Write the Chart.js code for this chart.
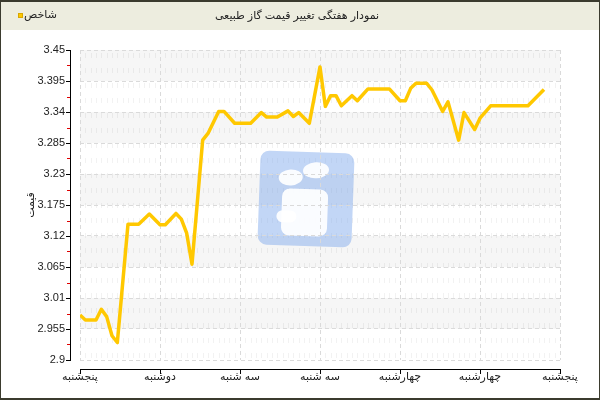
<!DOCTYPE html>
<html>
<head>
<meta charset="utf-8">
<script src="https://cdn.jsdelivr.net/npm/chart.js@4/dist/chart.umd.min.js"></script>
<style>
  html, body { margin: 0; padding: 0; background: #fff; }
  #wrap { width: 600px; height: 400px; }
</style>
</head>
<body>
<div id="wrap"><canvas id="myChart" width="600" height="400"></canvas></div>
<script>
const chartTitle = 'نمودار هفتگی تغییر قیمت گاز طبیعی';
const seriesName = 'شاخص';
const axisTitle = 'قیمت';
const dayLabels = ['پنجشنبه', 'دوشنبه', 'سه شنبه', 'سه شنبه', 'چهارشنبه', 'چهارشنبه', 'پنجشنبه'];
const yTicks = [2.9, 2.955, 3.01, 3.065, 3.12, 3.175, 3.23, 3.285, 3.34, 3.395, 3.45];
const pointIndex = [0, 1, 3, 4, 5, 6, 7, 9, 11, 13, 15, 16, 18, 19, 20, 21, 23, 24, 26, 27, 29, 32, 34, 35, 37, 39, 40, 41, 43, 44, 45, 46, 47, 48, 49, 51, 52, 54, 58, 60, 61, 62, 63, 65, 66, 68, 69, 71, 72, 74, 75, 77, 84, 87];
const prices = [2.980, 2.971, 2.971, 2.990, 2.977, 2.943, 2.931, 3.141, 3.141, 3.159, 3.140, 3.140, 3.160, 3.150, 3.125, 3.070, 3.290, 3.302, 3.341, 3.341, 3.320, 3.320, 3.339, 3.331, 3.331, 3.342, 3.332, 3.339, 3.320, 3.370, 3.420, 3.350, 3.369, 3.369, 3.351, 3.369, 3.360, 3.381, 3.381, 3.360, 3.360, 3.382, 3.391, 3.391, 3.379, 3.341, 3.358, 3.290, 3.339, 3.309, 3.329, 3.351, 3.351, 3.380];

const lineColor = '#ffc800';
const textFont = '"Liberation Sans", "DejaVu Sans", sans-serif';
const daySpan = 15;

// background, header bar, grey bands and the watermark go under the grid
const decor = {
	id: 'decor',
	beforeDraw(chart) {
		const ctx = chart.ctx;
		const a = chart.chartArea;
		const y = chart.scales.y;
		const x = chart.scales.x;
		ctx.save();
		ctx.fillStyle = '#fff';
		ctx.fillRect(0, 0, 600, 400);
		ctx.fillStyle = '#ededdf';
		ctx.fillRect(0, 0, 600, 30);

		ctx.fillStyle = '#f6f6f6';
		for (let i = yTicks.length - 1; i > 0; i -= 2) {
			const top = y.getPixelForValue(yTicks[i]);
			const bot = y.getPixelForValue(yTicks[i - 1]);
			ctx.fillRect(a.left, top, a.right - a.left, bot - top);
		}

		// faint minor verticals
		ctx.strokeStyle = 'rgba(0,0,0,0.05)';
		ctx.lineWidth = 1;
		ctx.setLineDash([5, 10]);
		for (let i = 0; i <= 90; i++) {
			if (i % daySpan === 0) continue;
			const px = Math.round(x.getPixelForValue(i)) + 0.5;
			ctx.beginPath();
			ctx.moveTo(px, a.top + 3);
			ctx.lineTo(px, a.bottom);
			ctx.stroke();
		}
		ctx.setLineDash([]);

		// watermark logo
		ctx.translate(306, 199);
		ctx.rotate(0.035);
		ctx.fillStyle = 'rgba(120,165,235,0.45)';
		ctx.beginPath();
		ctx.roundRect(-47, -47, 94, 94, 9);
		ctx.fill();
		ctx.fillStyle = 'rgba(255,255,255,0.92)';
		ctx.beginPath();
		ctx.ellipse(-16, -21, 12, 8, -0.1, 0, Math.PI * 2);
		ctx.fill();
		ctx.beginPath();
		ctx.ellipse(9, -29, 13, 8, -0.1, 0, Math.PI * 2);
		ctx.fill();
		ctx.beginPath();
		ctx.roundRect(-24, -10, 46, 47, 8);
		ctx.fill();
		ctx.beginPath();
		ctx.roundRect(-29, 12, 20, 12, 6);
		ctx.fill();
		ctx.restore();
	},
	afterDraw(chart) {
		const ctx = chart.ctx;
		const a = chart.chartArea;
		const y = chart.scales.y;
		const x = chart.scales.x;
		ctx.save();

		// y axis, set off to the left of the plot
		ctx.strokeStyle = '#000';
		ctx.lineWidth = 1;
		ctx.beginPath();
		ctx.moveTo(70.5, a.top);
		ctx.lineTo(70.5, a.bottom + 1);
		ctx.stroke();
		yTicks.forEach(v => {
			const py = Math.round(y.getPixelForValue(v)) + 0.5;
			ctx.beginPath();
			ctx.moveTo(66, py);
			ctx.lineTo(71, py);
			ctx.stroke();
		});
		ctx.strokeStyle = '#e00000';
		for (let i = 0; i < yTicks.length - 1; i++) {
			const py = Math.round(y.getPixelForValue((yTicks[i] + yTicks[i + 1]) / 2)) + 0.5;
			ctx.beginPath();
			ctx.moveTo(67, py);
			ctx.lineTo(70, py);
			ctx.stroke();
		}

		// x axis, set off below the plot
		ctx.strokeStyle = '#000';
		ctx.beginPath();
		ctx.moveTo(a.left, 369.5);
		ctx.lineTo(a.right + 1, 369.5);
		ctx.stroke();
		for (let i = 0; i <= 90; i += daySpan) {
			const px = Math.round(x.getPixelForValue(i)) + 0.5;
			ctx.beginPath();
			ctx.moveTo(px, 369);
			ctx.lineTo(px, 374);
			ctx.stroke();
		}

		// header text and legend
		ctx.fillStyle = '#222';
		ctx.font = '11px ' + textFont;
		ctx.textAlign = 'center';
		ctx.textBaseline = 'middle';
		ctx.fillText(chartTitle, 297, 16);
		ctx.textAlign = 'left';
		ctx.fillText(seriesName, 24, 15);
		ctx.fillStyle = lineColor;
		ctx.fillRect(18, 13, 5, 5);
		ctx.strokeStyle = '#d9a800';
		ctx.strokeRect(18.5, 13.5, 4, 4);

		// outer frame
		ctx.fillStyle = '#3b3b2e';
		ctx.fillRect(0, 0, 600, 2);
		ctx.fillRect(0, 0, 1, 400);
		ctx.fillRect(599, 0, 1, 400);
		ctx.fillRect(0, 398, 600, 2);
		ctx.restore();
	}
};

const ctx = document.getElementById('myChart').getContext('2d');
let myChart = new Chart(ctx, {
	type: 'line',
	data: {
		datasets: [
			{
				label: seriesName,
				data: pointIndex.map((v, i) => ({ x: v, y: prices[i] })),
				borderColor: lineColor,
				borderWidth: 3.5,
				borderJoinStyle: 'round',
				pointRadius: 0,
				tension: 0,
				fill: false
			}
		]
	},
	options: {
		responsive: false,
		animation: false,
		devicePixelRatio: 1,
		layout: { padding: { top: 50, right: 40, left: 0, bottom: 0 } },
		plugins: {
			legend: { display: false },
			tooltip: { enabled: false },
			title: { display: false }
		},
		scales: {
			x: {
				type: 'linear',
				min: 0,
				max: 90,
				afterFit: s => { s.height = 40; },
				afterBuildTicks: s => {
					s.ticks = dayLabels.map((d, i) => ({ value: i * daySpan }));
				},
				ticks: {
					callback: v => dayLabels[Math.round(v / daySpan)],
					font: { family: textFont, size: 11 },
					color: '#222',
					padding: 10,
					maxRotation: 0,
					autoSkip: false
				},
				grid: { color: '#dadada', drawTicks: false },
				border: { display: false, dash: [4, 3] }
			},
			y: {
				min: 2.9,
				max: 3.45,
				afterFit: s => { s.width = 80; },
				afterBuildTicks: s => {
					s.ticks = yTicks.map(v => ({ value: v }));
				},
				ticks: {
					callback: v => String(+v.toFixed(3)),
					font: { family: textFont, size: 11 },
					color: '#222',
					padding: 15
				},
				grid: { color: '#dadada', drawTicks: false },
				border: { display: false, dash: [4, 3] },
				title: {
					display: true,
					text: axisTitle,
					font: { family: textFont, size: 11 },
					color: '#222',
					padding: { top: 24, bottom: 0 }
				}
			}
		}
	},
	plugins: [decor]
});
</script>
</body>
</html>
